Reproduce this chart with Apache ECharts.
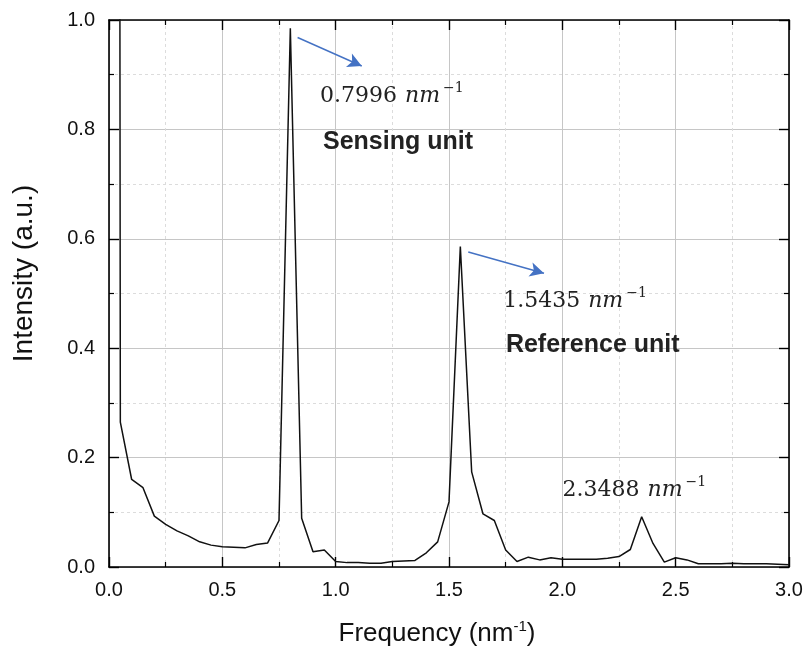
<!DOCTYPE html>
<html>
<head>
<meta charset="utf-8">
<script src="https://cdn.jsdelivr.net/npm/echarts@6/dist/echarts.min.js"></script>
<style>html,body{margin:0;padding:0;background:#fff}#c{width:807px;height:654px}</style>
</head>
<body>
<div id="c"></div>
<script>
// Frequency (nm^-1)
var freq = [0.00,0.05,0.10,0.15,0.20,0.25,0.30,0.35,0.40,0.45,0.50,0.55,0.60,0.65,0.70,0.75,0.80,0.85,0.90,0.95,
            1.00,1.05,1.10,1.15,1.20,1.25,1.30,1.35,1.40,1.45,1.50,1.55,1.60,1.65,1.70,1.75,1.80,1.85,1.90,1.95,
            2.00,2.05,2.10,2.15,2.20,2.25,2.30,2.35,2.40,2.45,2.50,2.55,2.60,2.65,2.70,2.75,2.80,2.85,2.90,2.95,3.00];
// Intensity (a.u.)
var intensity = [20,0.265,0.160,0.145,0.093,0.078,0.066,0.057,0.046,0.040,0.037,0.036,0.035,0.041,0.044,0.085,0.985,0.089,0.028,0.031,
                 0.010,0.008,0.008,0.007,0.007,0.010,0.011,0.012,0.026,0.046,0.119,0.586,0.174,0.097,0.085,0.031,0.010,0.018,0.013,0.017,
                 0.014,0.014,0.014,0.014,0.016,0.019,0.032,0.092,0.043,0.009,0.017,0.013,0.006,0.006,0.006,0.007,0.006,0.006,0.006,0.005,0.004];
var xTicks = [0.0,0.5,1.0,1.5,2.0,2.5,3.0];
var yTicks = [0.0,0.2,0.4,0.6,0.8,1.0];

// arrow annotations [start, end] in data coordinates
var arrow1 = [[0.832,0.968],[1.115,0.916]];
var arrow2 = [[1.585,0.576],[1.919,0.537]];
// peak value labels
var peakLabels = ['0.7996','1.5435','2.3488'];
var peakLabelPos = [[0.931,0.861],[1.739,0.486],[2.001,0.140]];
var unitLabels = ['Sensing unit','Reference unit'];
var unitLabelPos = [[0.944,0.776],[1.751,0.406]];

var chart = echarts.init(document.getElementById('c'), null, {renderer:'canvas'});
var data = freq.map(function(f,i){return [f,intensity[i]];});

var labelFont = {fontFamily:'Liberation Sans', fontSize:20, color:'#111'};
function baseAxis(extra){
  return Object.assign({
    type:'value',
    axisLine:{show:true, onZero:false, lineStyle:{color:'#000', width:1.6}},
    axisTick:{show:true, inside:true, length:10, lineStyle:{color:'#000', width:1.4}},
    minorTick:{show:true, splitNumber:2, length:5, lineStyle:{color:'#000', width:1.2}},
  }, extra);
}

chart.setOption({
  animation:false,
  grid:{left:109, top:20, right:18, bottom:87},
  xAxis:[
    baseAxis({min:0, max:3, interval:0.5, position:'bottom',
      axisLabel:Object.assign({margin:13, formatter:function(v){return v.toFixed(1);}}, labelFont),
      splitLine:{show:true, lineStyle:{color:'#c6c6c6', width:1}},
      minorSplitLine:{show:true, lineStyle:{color:'#dcdcdc', width:1, type:[3,3]}},
      name:'{a|Frequency (nm}{s|-1}{a|)}', nameLocation:'middle', nameGap:52,
      nameTextStyle:{padding:[0,24,0,0], rich:{a:{fontFamily:'Liberation Sans', fontSize:26, color:'#111', lineHeight:30},
                           s:{fontFamily:'Liberation Sans', fontSize:15, color:'#111', verticalAlign:'top', lineHeight:30}}}
    }),
    baseAxis({min:0, max:3, interval:0.5, position:'top', axisLabel:{show:false}, splitLine:{show:false}})
  ],
  yAxis:[
    baseAxis({min:0, max:1, interval:0.2, position:'left',
      axisLabel:Object.assign({margin:14, formatter:function(v){return v.toFixed(1);}}, labelFont),
      splitLine:{show:true, lineStyle:{color:'#c6c6c6', width:1}},
      minorSplitLine:{show:true, lineStyle:{color:'#dcdcdc', width:1, type:[3,3]}},
      name:'Intensity (a.u.)', nameLocation:'middle', nameGap:71,
      nameTextStyle:{fontFamily:'Liberation Sans', fontSize:28, color:'#111', padding:[0,0,0,40]}
    }),
    baseAxis({min:0, max:1, interval:0.2, position:'right', axisLabel:{show:false}, splitLine:{show:false}})
  ],
  series:[{
    type:'line', data:data, showSymbol:false, clip:true,
    lineStyle:{color:'#111', width:1.5},
    markLine:{
      silent:true, animation:false, symbol:['none','arrow'], symbolSize:[11,14],
      label:{show:false},
      lineStyle:{color:'#4472C4', width:1.5, type:'solid'},
      data:[
        [{coord:arrow1[0]},{coord:arrow1[1]}],
        [{coord:arrow2[0]},{coord:arrow2[1]}]
      ]
    }
  }]
});

var graphics = [];
peakLabels.forEach(function(t,i){
  var p = chart.convertToPixel({xAxisIndex:0, yAxisIndex:0}, peakLabelPos[i]);
  graphics.push({type:'text', x:p[0], y:p[1], z:100, style:{
    text:'{a|'+t+'}{b|nm}{c|\u22121}', align:'left', verticalAlign:'middle',
    rich:{a:{fontFamily:'DejaVu Serif', fontSize:22, fill:'#222', lineHeight:30},
          b:{fontFamily:'DejaVu Serif', fontStyle:'italic', fontSize:22, fill:'#222', lineHeight:30, padding:[0,0,0,8]},
          c:{fontFamily:'DejaVu Serif', fontSize:14, fill:'#222', verticalAlign:'top', lineHeight:16, padding:[0,0,0,3]}}
  }});
});
unitLabels.forEach(function(t,i){
  var p = chart.convertToPixel({xAxisIndex:0, yAxisIndex:0}, unitLabelPos[i]);
  graphics.push({type:'text', x:p[0], y:p[1], z:100, style:{
    text:t, align:'left', verticalAlign:'middle', fontFamily:'Liberation Sans', fontWeight:'bold', fontSize:25, fill:'#222'
  }});
});
chart.setOption({graphic:graphics});
</script>
</body>
</html>
